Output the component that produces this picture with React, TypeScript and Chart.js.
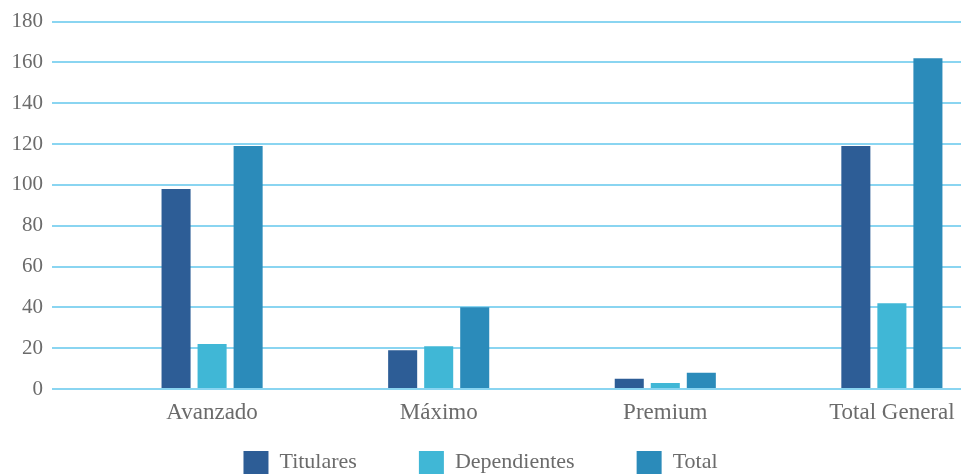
import React, { useEffect, useRef } from 'react';
import { Chart, registerables } from 'chart.js';

Chart.register(...registerables);

const categories = ['Avanzado', 'Máximo', 'Premium', 'Total General'];
const seriesNames = ['Titulares', 'Dependientes', 'Total'];
const titulares = [98, 19, 5, 119];
const dependientes = [22, 21, 3, 42];
const total = [119, 40, 8, 162];
const yTickValues = [0, 20, 40, 60, 80, 100, 120, 140, 160, 180];

const seriesColors = ['#2d5d96', '#40b7d6', '#2b8bba'];
const FONT = "'Liberation Serif', 'Times New Roman', serif";
const TEXT = '#6b6b6b';

// let the x-axis labels draw below the (zero-height) axis box
const xLabelArea = {
  id: 'xLabelArea',
  afterLayout(chart: any) {
    const s = chart.scales.x;
    s.bottom = s.top + 44;
  },
};

export default function App() {
  const ref = useRef<HTMLCanvasElement | null>(null);

  useEffect(() => {
    if (!ref.current) return;
    const seriesValues = [titulares, dependientes, total];
    const chart = new Chart(ref.current, {
      type: 'bar',
      data: {
        datasets: seriesNames.map((name, s) => ({
          label: name,
          data: seriesValues[s].map((v, i) => ({ x: i, y: v })),
          backgroundColor: seriesColors[s],
          borderWidth: 0,
          categoryPercentage: 0.477,
          barPercentage: 0.806,
        })),
      },
      plugins: [xLabelArea],
      options: {
        animation: false,
        responsive: false,
        devicePixelRatio: 1,
        layout: { padding: { top: 10, left: 0, right: 0, bottom: -8 } },
        plugins: {
          tooltip: { enabled: false },
          legend: {
            position: 'bottom',
            labels: {
              boxWidth: 25,
              boxHeight: 23,
              padding: 62,
              color: TEXT,
              font: { family: FONT, size: 22 },
            },
          },
        },
        scales: {
          x: {
            type: 'linear',
            offset: false,
            min: -0.7065,
            max: 3.305,
            grid: { display: false, drawTicks: false, offset: false },
            border: { display: false },
            afterBuildTicks: (scale: any) => {
              scale.ticks = categories.map((_, i) => ({ value: i }));
            },
            afterFit: (scale: any) => {
              scale.height = 0;
              scale.paddingRight = 0;
              scale.paddingLeft = 0;
            },
            ticks: {
              autoSkip: false,
              maxRotation: 0,
              minRotation: 0,
              padding: 10,
              color: TEXT,
              font: { family: FONT, size: 23 },
              callback: (v: any) => categories[Number(v)] ?? '',
            },
          },
          y: {
            min: 0,
            max: 180,
            afterBuildTicks: (scale: any) => {
              scale.ticks = yTickValues.map((v) => ({ value: v }));
            },
            afterFit: (scale: any) => {
              scale.width = 52;
            },
            grid: { color: '#8ad5f1', lineWidth: 2, drawTicks: false },
            border: { display: false },
            ticks: {
              padding: 9,
              color: TEXT,
              font: { family: FONT, size: 21 },
            },
          },
        },
      },
    } as any);
    return () => chart.destroy();
  }, []);

  return (
    <div style={{ position: 'fixed', left: 0, top: 0, width: 961, height: 476, background: '#fff', overflow: 'hidden' }}>
      <canvas ref={ref} width={961} height={476} />
    </div>
  );
}
